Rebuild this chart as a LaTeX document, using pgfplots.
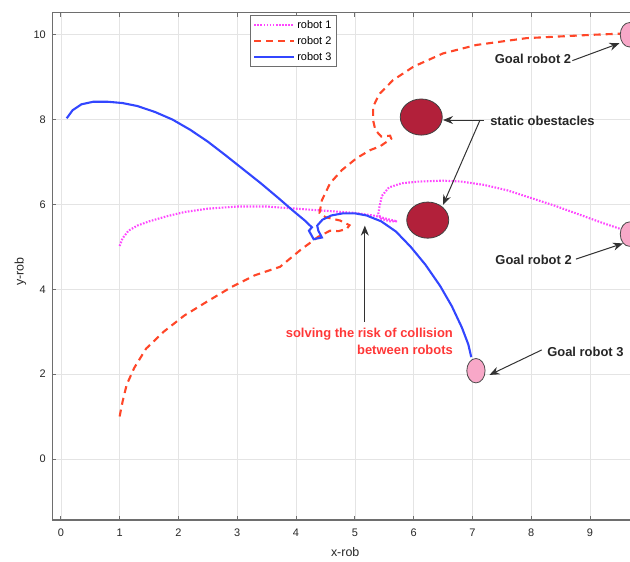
\documentclass[border=0pt]{standalone}
\usepackage{fontspec}
\setmainfont{Liberation Sans}
\setsansfont{Liberation Sans}
\usepackage{pgfplots}
\pgfplotsset{compat=1.18}
\usetikzlibrary{arrows.meta}

\definecolor{robA}{RGB}{255,70,255}
\definecolor{robB}{RGB}{255,70,40}
\definecolor{robC}{RGB}{50,70,255}
\definecolor{obst}{RGB}{178,32,58}
\definecolor{goal}{RGB}{248,168,200}
\definecolor{gridc}{RGB}{228,228,228}
\definecolor{spine}{RGB}{110,110,110}
\definecolor{note}{RGB}{255,55,55}
\definecolor{arr}{RGB}{50,50,50}

\tikzset{
  anno/.style={font=\fontsize{13}{15}\selectfont\bfseries, text=black!85, inner sep=0pt},
  pointer/.style={-{Stealth[length=10bp,width=8bp]}, arr, line width=1bp},
}

\begin{document}
\begin{tikzpicture}
\begin{axis}[
  name=ax,
  scale only axis,
  width=577.7bp, height=507.3bp,
  xmin=-0.145, xmax=9.68,
  ymin=-1.44, ymax=10.52,
  xtick={0,...,9}, ytick={0,2,...,10},
  grid=major,
  major grid style={gridc, line width=0.6bp},
  axis line style={draw=none},
  tick align=inside,
  xtick pos=both, ytick pos=left,
  major tick length=4bp,
  tick style={spine, line width=0.8bp},
  /pgf/number format/assume math mode=true,
  ticklabel style={font=\fontsize{11}{13}\selectfont, text=black!85},
  xticklabel style={yshift=-5bp},
  yticklabel style={xshift=-3bp},
  xlabel={x-rob}, ylabel={y-rob},
  every axis x label/.style={at={(axis description cs:0.507,0)}, yshift=-32bp,
    anchor=center, font=\fontsize{12.5}{14}\selectfont, text=black!85},
  every axis y label/.style={at={(axis description cs:0,0.49)}, xshift=-32bp,
    rotate=90, anchor=center, font=\fontsize{12.5}{14}\selectfont, text=black!85},
  legend style={at={(0.342,0.995)}, anchor=north west, draw=spine,
    line width=0.6bp, fill=white, font=\fontsize{11}{13}\selectfont,
    inner xsep=3bp, inner ysep=3bp, row sep=2.5bp},
  legend cell align=left,
  legend image code/.code={\draw[#1] (0bp,0bp) -- (40bp,0bp);},
]

% robot 1 path
\addplot[robA, line width=2.1bp, dash pattern=on 1.6bp off 1.5bp] coordinates {
  (1.0,5.02) (1.05,5.2) (1.15,5.38) (1.3,5.5) (1.5,5.6) (1.8,5.72) (2.1,5.82)
  (2.5,5.9) (3.0,5.95) (3.5,5.95) (4.0,5.9) (4.5,5.85) (5.0,5.8) (5.35,5.73)
  (5.6,5.64) (5.72,5.6) (5.6,5.6) (5.45,5.66) (5.4,5.78) (5.42,5.95) (5.46,6.2)
  (5.58,6.4) (5.8,6.5) (6.1,6.54) (6.5,6.56) (6.8,6.54) (7.2,6.46) (7.6,6.33)
  (8.0,6.15) (8.4,5.97) (8.8,5.77) (9.2,5.57) (9.5,5.43) (9.62,5.38)
};
\addlegendentry{robot 1}

% robot 2 path
\addplot[robB, line width=2.1bp, dash pattern=on 7bp off 5bp] coordinates {
  (1.0,1.0) (1.05,1.35) (1.12,1.75) (1.25,2.15) (1.45,2.6) (1.75,3.0) (2.1,3.38)
  (2.5,3.72) (2.9,4.05) (3.3,4.33) (3.73,4.53) (4.07,4.92) (4.38,5.24)
  (4.58,5.38) (4.72,5.37) (4.86,5.42) (4.91,5.51) (4.75,5.62) (4.5,5.7)
  (4.4,5.8) (4.44,6.1) (4.58,6.5) (4.78,6.81) (5.03,7.09) (5.26,7.28)
  (5.43,7.37) (5.62,7.55) (5.6,7.62) (5.45,7.6) (5.35,7.75) (5.31,7.99)
  (5.31,8.3) (5.38,8.5) (5.43,8.62) (5.65,8.93) (6.0,9.25) (6.5,9.56)
  (7.07,9.76) (7.92,9.92) (9.06,10.0) (9.6,10.03)
};
\addlegendentry{robot 2}

% robot 3 path
\addplot[robC, line width=2.1bp] coordinates {
  (0.1,8.03) (0.2,8.22) (0.35,8.36) (0.55,8.42) (0.8,8.42) (1.05,8.39)
  (1.3,8.32) (1.6,8.18) (1.9,8.0) (2.2,7.76) (2.5,7.48) (2.8,7.16) (3.1,6.83)
  (3.4,6.5) (3.7,6.15) (3.95,5.85) (4.15,5.62) (4.27,5.46) (4.22,5.38)
  (4.3,5.18) (4.44,5.22) (4.38,5.38) (4.36,5.5) (4.45,5.64) (4.6,5.74)
  (4.8,5.79) (5.0,5.79) (5.2,5.74) (5.45,5.6) (5.7,5.36) (5.95,5.0)
  (6.2,4.58) (6.45,4.08) (6.65,3.6) (6.82,3.1) (6.93,2.7) (6.98,2.4)
};
\addlegendentry{robot 3}

% static obstacles
\addplot[forget plot, only marks, mark=*, mark size=21bp,
  mark options={yscale=0.86, fill=obst, draw=black!75, line width=0.8bp}]
  coordinates {(6.13,8.06) (6.24,5.63)};

% goal positions
\addplot[forget plot, only marks, mark=*, mark size=12.2bp,
  mark options={xscale=0.75, fill=goal, draw=black!70, line width=0.8bp}]
  coordinates {(7.06,2.08) (9.67,5.3) (9.67,10.0)};

% annotations
\node[anno, anchor=center] at (axis cs:8.03,9.43) {Goal robot 2};
\draw[pointer] (axis cs:8.7,9.39) -- (axis cs:9.5,9.8);

\node[anno, anchor=west] at (axis cs:7.3,7.96) {static obestacles};
\draw[pointer] (axis cs:7.19,7.99) -- (axis cs:6.5,7.99);
\draw[pointer] (axis cs:7.13,7.99) -- (axis cs:6.5,5.99);

\node[anno, anchor=center] at (axis cs:8.04,4.69) {Goal robot 2};
\draw[pointer] (axis cs:8.76,4.71) -- (axis cs:9.56,5.08);

\node[anno, anchor=west] at (axis cs:8.27,2.53) {Goal robot 3};
\draw[pointer] (axis cs:8.18,2.57) -- (axis cs:7.29,1.98);

\draw[pointer] (axis cs:5.17,3.23) -- (axis cs:5.17,5.5);
\node[anno, text=note, anchor=east, align=right,
  font=\fontsize{13}{17}\selectfont\bfseries] at (axis cs:6.67,2.77)
  {solving the risk of collision\\between robots};
\end{axis}

% frame: left, bottom and top edges
\draw[spine, line width=1.2bp] (ax.south east) -- (ax.south west)
  -- (ax.north west) -- (ax.north east);

\pgfresetboundingbox
\path[use as bounding box] ([shift={(-52.3bp,-42bp)}]ax.south west)
  rectangle ([shift={(0bp,12.7bp)}]ax.north east);
\end{tikzpicture}
\end{document}
